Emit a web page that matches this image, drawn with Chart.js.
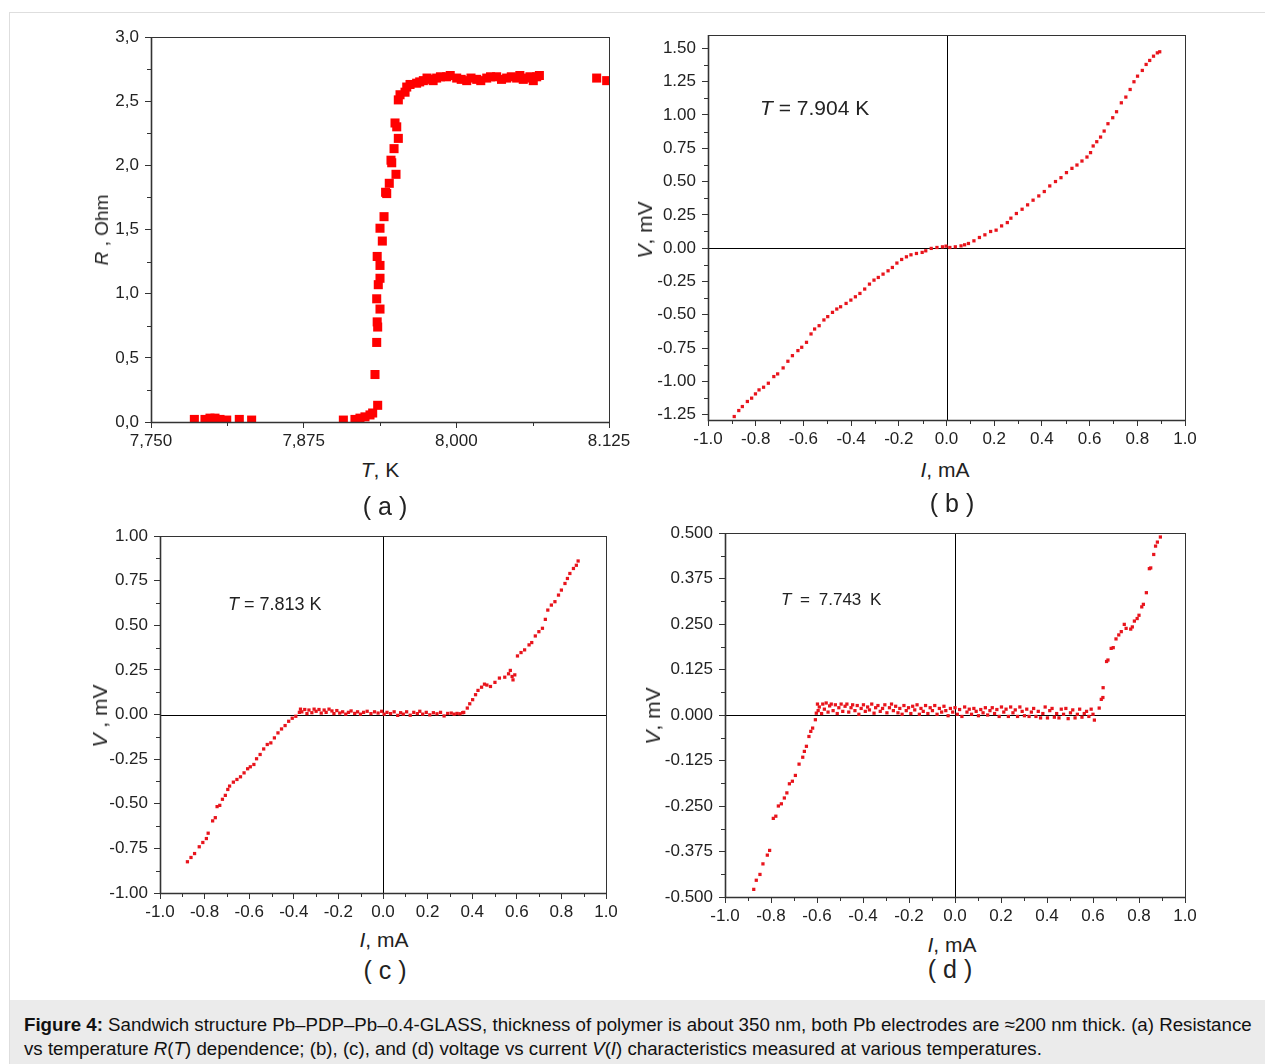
<!DOCTYPE html>
<html>
<head>
<meta charset="utf-8">
<script src="https://cdn.jsdelivr.net/npm/chart.js@4/dist/chart.umd.min.js"></script>
<style>
  body { margin: 0; width: 1265px; height: 1064px; background: #fff; position: relative; overflow: hidden;
         font-family: "Liberation Sans", Arial, sans-serif; color: #222; }
  .fig { position: absolute; left: 9px; top: 12px; width: 1270px; height: 1060px; border: 1px solid #dedede; }
  canvas { position: absolute; }
  .t { position: absolute; white-space: nowrap; transform: translate(-50%, -50%); font-size: 21px; }
  .rot { transform: translate(-50%, -50%) rotate(-90deg); }
  .lbl { font-size: 25px; }
  .note { position: absolute; white-space: nowrap; transform: translateY(-50%); }
  .caption { position: absolute; left: 10px; top: 1000px; width: 1260px; height: 64px; background: #ebebeb;
             font-size: 18.7px; line-height: 24px; padding: 13px 0 0 14px; box-sizing: border-box; color: #111; }
</style>
</head>
<body>
<div class="fig"></div>

<canvas id="chartA" width="558" height="435" style="left:81px;top:17px"></canvas>
<canvas id="chartB" width="577" height="435" style="left:638px;top:15px"></canvas>
<canvas id="chartC" width="546" height="407" style="left:90px;top:516px"></canvas>
<canvas id="chartD" width="560" height="414" style="left:655px;top:513px"></canvas>

<div class="t rot" style="left:102px;top:230px;font-size:19px"><i>R</i> , Ohm</div>
<div class="t" style="left:380px;top:470px"><i>T</i>, K</div>
<div class="t lbl" style="left:385px;top:506px">( a )</div>

<div class="t rot" style="left:645px;top:230px"><i>V</i>, mV</div>
<div class="t" style="left:945px;top:470px"><i>I</i>, mA</div>
<div class="t lbl" style="left:952px;top:503px">( b )</div>
<div class="note" style="left:760px;top:108px;font-size:21px"><i>T</i> = 7.904 K</div>

<div class="t rot" style="left:100px;top:716px"><i>V</i> , mV</div>
<div class="t" style="left:384px;top:940px"><i>I</i>, mA</div>
<div class="t lbl" style="left:385px;top:970px">( c )</div>
<div class="note" style="left:228px;top:604px;font-size:18px"><i>T</i> = 7.813 K</div>

<div class="t rot" style="left:653px;top:716px"><i>V</i>, mV</div>
<div class="t" style="left:952px;top:945px"><i>I</i>, mA</div>
<div class="t lbl" style="left:950px;top:969px">( d )</div>
<div class="note" style="left:781px;top:600px;font-size:17px;word-spacing:4px"><i>T</i> = 7.743 K</div>

<div class="caption"><b>Figure 4:</b> Sandwich structure Pb–PDP–Pb–0.4-GLASS, thickness of polymer is about 350 nm, both Pb electrodes are ≈200 nm thick. (a) Resistance<br>vs temperature <i>R</i>(<i>T</i>) dependence; (b), (c), and (d) voltage vs current <i>V</i>(<i>I</i>) characteristics measured at various temperatures.</div>

<script>
// ---- (a) R(T) ----
const aTemp = [7.7855, 7.7942, 7.7983, 7.8024, 7.8065, 7.8120, 7.8223, 7.8324,
  7.9075, 7.9170, 7.9211, 7.9252, 7.9293, 7.9315, 7.9356,
  7.9334, 7.9348, 7.9356, 7.9352, 7.9375, 7.9348, 7.9361, 7.9375, 7.9375, 7.9352,
  7.9394, 7.9375, 7.9408, 7.9430, 7.9421, 7.9451, 7.9506, 7.9471, 7.9465, 7.9490,
  7.9525, 7.9512, 7.9498, 7.9525, 7.9539, 7.9580, 7.9594, 7.9621, 7.9675, 7.9730,
  7.9784, 7.9839, 7.9921, 8.0003, 8.0085, 8.0167, 8.0249, 8.0330, 8.0412, 8.0494,
  8.0548, 8.0603, 8.0658, 7.9700, 7.9760, 7.9810, 7.9870, 7.9950, 8.0040, 8.0120,
  8.0200, 8.0280, 8.0370, 8.0450, 8.0520, 8.0580, 8.0630, 8.0680, 8.1149, 8.1231];
const aRes = [0.02, 0.02, 0.03, 0.03, 0.02, 0.015, 0.02, 0.015,
  0.015, 0.02, 0.03, 0.04, 0.055, 0.07, 0.13,
  0.37, 0.62, 0.74, 0.78, 0.88, 0.96, 1.07, 1.12, 1.22, 1.29,
  1.41, 1.51, 1.60, 1.78, 1.79, 1.86, 1.93, 2.02, 2.04, 2.13,
  2.21, 2.30, 2.33, 2.51, 2.55, 2.57, 2.61, 2.63, 2.64, 2.66,
  2.67, 2.68, 2.69, 2.68, 2.66, 2.67, 2.68, 2.69, 2.68, 2.68,
  2.67, 2.69, 2.69, 2.65, 2.68, 2.66, 2.69, 2.70, 2.67, 2.68,
  2.66, 2.69, 2.67, 2.69, 2.70, 2.68, 2.66, 2.70, 2.68, 2.66];
const aXTicks = [7.75, 7.875, 8.0, 8.125];
const aXLabels = ['7,750', '7,875', '8,000', '8.125'];
const aYTicks = [0, 0.5, 1.0, 1.5, 2.0, 2.5, 3.0];
const aYLabels = ['0,0', '0,5', '1,0', '1,5', '2,0', '2,5', '3,0'];

// ---- (b) V(I), T = 7.904 K ----
const bCurrent = [-0.890, -0.871, -0.856, -0.835, -0.817, -0.801, -0.786, -0.767, -0.747, -0.724,
  -0.708, -0.685, -0.665, -0.646, -0.623, -0.607, -0.587, -0.568, -0.553, -0.534,
  -0.514, -0.498, -0.478, -0.460, -0.444, -0.421, -0.401, -0.382, -0.363, -0.343,
  -0.323, -0.304, -0.286, -0.266, -0.245, -0.227, -0.208, -0.188, -0.168, -0.149,
  -0.126, -0.102, -0.087, -0.064, -0.040, -0.017, -0.002, 0.014, 0.037, 0.061,
  0.076, 0.092, 0.115, 0.138, 0.161, 0.185, 0.208, 0.231, 0.255, 0.270,
  0.293, 0.317, 0.340, 0.363, 0.387, 0.410, 0.433, 0.457, 0.480, 0.503,
  0.526, 0.547, 0.568, 0.589, 0.604, 0.615, 0.630, 0.646, 0.661, 0.677,
  0.697, 0.713, 0.733, 0.752, 0.770, 0.786, 0.801, 0.821, 0.837, 0.852,
  0.868, 0.884, 0.894];
const bVoltage = [-1.264, -1.219, -1.189, -1.151, -1.126, -1.094, -1.064, -1.044, -1.014, -0.964,
  -0.944, -0.899, -0.849, -0.807, -0.769, -0.744, -0.707, -0.644, -0.607, -0.582,
  -0.539, -0.514, -0.482, -0.457, -0.440, -0.415, -0.390, -0.365, -0.340, -0.307,
  -0.270, -0.240, -0.220, -0.195, -0.170, -0.145, -0.112, -0.085, -0.065, -0.050,
  -0.040, -0.032, -0.020, -0.002, 0.005, 0.010, 0.015, 0.005, 0.010, 0.017,
  0.025, 0.035, 0.055, 0.080, 0.100, 0.125, 0.135, 0.167, 0.192, 0.225,
  0.260, 0.292, 0.325, 0.360, 0.392, 0.425, 0.467, 0.500, 0.529, 0.567,
  0.599, 0.624, 0.654, 0.684, 0.717, 0.767, 0.799, 0.834, 0.879, 0.934,
  0.979, 1.024, 1.091, 1.134, 1.191, 1.249, 1.291, 1.334, 1.379, 1.409,
  1.441, 1.466, 1.474];
const bXTicks = [-1.0, -0.8, -0.6, -0.4, -0.2, 0.0, 0.2, 0.4, 0.6, 0.8, 1.0];
const bXLabels = ['-1.0', '-0.8', '-0.6', '-0.4', '-0.2', '0.0', '0.2', '0.4', '0.6', '0.8', '1.0'];
const bYTicks = [-1.25, -1.0, -0.75, -0.5, -0.25, 0, 0.25, 0.5, 0.75, 1.0, 1.25, 1.5];
const bYLabels = ['-1.25', '-1.00', '-0.75', '-0.50', '-0.25', '0.00', '0.25', '0.50', '0.75', '1.00', '1.25', '1.50'];

// ---- (c) V(I), T = 7.813 K ----
const cCurrent = [-0.877, -0.861, -0.845, -0.824, -0.808, -0.792, -0.784, -0.764, -0.752, -0.744,
  -0.732, -0.720, -0.707, -0.696, -0.688, -0.671, -0.655, -0.639, -0.623, -0.607,
  -0.595, -0.579, -0.567, -0.551, -0.535, -0.519, -0.503, -0.487, -0.471, -0.455,
  -0.439, -0.423, -0.407, -0.391, -0.375,
  -0.370, -0.364, -0.351, -0.341, -0.332, -0.319, -0.309, -0.300, -0.287, -0.277,
  -0.264, -0.255, -0.242, -0.229, -0.220, -0.207, -0.194, -0.181, -0.167, -0.155,
  -0.143, -0.127, -0.114, -0.101, -0.087, -0.071, -0.054, -0.038, -0.022, -0.006,
  0.005, 0.018, 0.034, 0.050, 0.066, 0.079, 0.091, 0.106, 0.122, 0.138,
  0.154, 0.165, 0.178, 0.194, 0.210, 0.226, 0.242, 0.258, 0.274, 0.290,
  0.306, 0.319, 0.332, 0.345, 0.357,
  0.362, 0.378, 0.389, 0.402, 0.415, 0.426, 0.442, 0.455, 0.466, 0.482,
  0.502, 0.522, 0.546, 0.563, 0.571, 0.579, 0.583, 0.591, 0.603, 0.619,
  0.635, 0.655, 0.667, 0.683, 0.699, 0.715, 0.728, 0.739, 0.755, 0.771,
  0.787, 0.800, 0.816, 0.827, 0.838, 0.854, 0.867, 0.875];
const cVoltage = [-0.825, -0.801, -0.779, -0.741, -0.717, -0.695, -0.665, -0.596, -0.578, -0.516,
  -0.509, -0.475, -0.453, -0.420, -0.401, -0.379, -0.364, -0.349, -0.327, -0.304,
  -0.293, -0.280, -0.248, -0.224, -0.193, -0.168, -0.159, -0.131, -0.103, -0.081,
  -0.062, -0.038, -0.021, -0.010, 0.012,
  0.030, 0.015, 0.028, 0.005, 0.025, 0.010, 0.030, 0.018, 0.028, 0.008,
  0.025, 0.012, 0.030, 0.020, 0.005, 0.022, 0.008, 0.015, 0.002, 0.012,
  0.020, 0.006, 0.015, 0.002, 0.012, 0.018, 0.005, 0.015, 0.008, 0.018,
  0.002, 0.012, 0.005, 0.015, -0.005, 0.010, 0.002, 0.015, -0.004, 0.012,
  0.005, 0.018, 0.002, 0.012, -0.002, 0.010, 0.004, 0.012, -0.008, 0.006,
  0.008, 0.002, 0.006, 0.004, 0.010,
  0.012, 0.036, 0.060, 0.083, 0.111, 0.135, 0.153, 0.170, 0.165, 0.157,
  0.180, 0.204, 0.209, 0.228, 0.247, 0.213, 0.194, 0.222, 0.328, 0.347,
  0.362, 0.390, 0.403, 0.440, 0.464, 0.483, 0.533, 0.585, 0.613, 0.632,
  0.669, 0.697, 0.734, 0.762, 0.790, 0.818, 0.836, 0.860];
const cYTicks = [-1.0, -0.75, -0.5, -0.25, 0, 0.25, 0.5, 0.75, 1.0];
const cYLabels = ['-1.00', '-0.75', '-0.50', '-0.25', '0.00', '0.25', '0.50', '0.75', '1.00'];

// ---- (d) V(I), T = 7.743 K ----
const dCurrent = [-0.875, -0.864, -0.848, -0.835, -0.816, -0.806, -0.790, -0.779, -0.768, -0.755,
  -0.742, -0.731, -0.720, -0.707, -0.694, -0.678, -0.662, -0.655, -0.646, -0.635,
  -0.627, -0.619, -0.607, -0.603,
  -0.598, -0.595, -0.590, -0.580, -0.575, -0.568, -0.560, -0.552, -0.545, -0.538,
  -0.530, -0.520, -0.512, -0.505, -0.495, -0.488, -0.478, -0.470, -0.462, -0.452,
  -0.445, -0.435, -0.425, -0.418, -0.408, -0.398, -0.390, -0.380, -0.372, -0.362,
  -0.352, -0.345, -0.335, -0.325, -0.315, -0.305, -0.296, -0.285, -0.276, -0.268,
  -0.258, -0.248, -0.240, -0.230, -0.222, -0.212, -0.202, -0.192, -0.184, -0.175,
  -0.165, -0.155, -0.148, -0.138, -0.128, -0.118, -0.108, -0.098, -0.088, -0.078,
  -0.068, -0.058, -0.048, -0.040, -0.030, -0.020, -0.010, 0.000, 0.010, 0.020,
  0.030, 0.042, 0.052, 0.062, 0.072, 0.082, 0.092, 0.102, 0.112, 0.122,
  0.132, 0.142, 0.152, 0.162, 0.172, 0.182, 0.192, 0.202, 0.212, 0.222,
  0.232, 0.242, 0.252, 0.262, 0.272, 0.282, 0.292, 0.302, 0.312, 0.322,
  0.332, 0.342, 0.352, 0.362, 0.372, 0.382, 0.392, 0.402, 0.412, 0.422,
  0.432, 0.442, 0.452, 0.462, 0.472, 0.482, 0.492, 0.502, 0.512, 0.522,
  0.532, 0.542, 0.552, 0.562, 0.572, 0.582, 0.592, 0.600, 0.606,
  0.627, 0.636, 0.643, 0.644, 0.659, 0.665, 0.679, 0.688, 0.700, 0.712,
  0.723, 0.736, 0.744, 0.764, 0.771, 0.780, 0.792, 0.800, 0.812, 0.819,
  0.832, 0.845, 0.851, 0.864, 0.872, 0.880, 0.893];
const dVoltage = [-0.479, -0.454, -0.438, -0.409, -0.385, -0.372, -0.284, -0.278, -0.250, -0.244,
  -0.228, -0.214, -0.189, -0.182, -0.166, -0.135, -0.116, -0.100, -0.086, -0.059,
  -0.045, -0.036, -0.013, 0.005,
  0.030, 0.012, 0.022, 0.004, 0.030, 0.016, 0.033, 0.008, 0.025, 0.030,
  0.012, 0.028, 0.004, 0.020, 0.030, 0.010, 0.024, 0.030, 0.008, 0.020,
  0.028, 0.012, 0.026, 0.002, 0.018, 0.028, 0.010, 0.022, 0.014, 0.030,
  0.005, 0.020, 0.026, 0.010, 0.018, 0.028, 0.006, 0.020, 0.030, 0.012,
  0.024, 0.006, 0.018, 0.002, 0.026, 0.012, 0.020, 0.004, 0.024, 0.014,
  0.028, 0.002, 0.018, 0.010, 0.026, 0.004, 0.020, 0.012, 0.026, 0.002,
  0.018, 0.008, 0.024, 0.012, -0.002, 0.018, 0.008, 0.020, 0.002, 0.015,
  -0.004, 0.022, 0.008, 0.016, 0.002, 0.018, 0.010, -0.002, 0.015, 0.006,
  0.020, 0.000, 0.012, 0.020, 0.004, 0.015, -0.004, 0.022, 0.008, 0.016,
  -0.004, 0.022, 0.006, 0.014, -0.004, 0.022, 0.010, -0.002, 0.016, -0.004,
  0.008, 0.018, -0.004, 0.010, -0.008, 0.004, 0.022, -0.008, 0.012, 0.018,
  -0.006, 0.004, -0.008, 0.016, 0.002, 0.018, -0.010, 0.006, 0.014, -0.008,
  0.002, 0.016, -0.006, 0.004, 0.010, -0.004, 0.016, 0.002, -0.014,
  0.019, 0.043, 0.048, 0.075, 0.147, 0.151, 0.183, 0.185, 0.209, 0.220,
  0.229, 0.249, 0.238, 0.236, 0.242, 0.258, 0.265, 0.274, 0.297, 0.304,
  0.336, 0.402, 0.404, 0.441, 0.464, 0.475, 0.489];
const dYTicks = [-0.5, -0.375, -0.25, -0.125, 0, 0.125, 0.25, 0.375, 0.5];
const dYLabels = ['-0.500', '-0.375', '-0.250', '-0.125', '0.000', '0.125', '0.250', '0.375', '0.500'];

const FONT = '"Liberation Sans", Arial, sans-serif';
const AXIS = '#333';

function mids(ticks) {
    const out = [];
    for (let i = 1; i < ticks.length; i++) out.push((ticks[i - 1].value + ticks[i].value) / 2);
    return out;
}

// frame, minor ticks and the zero cross lines
const framePlugin = {
    id: 'frame',
    beforeDatasetsDraw(chart, args, opts) {
        if (!opts.zero) return;
        const { ctx, chartArea: a, scales: { x, y } } = chart;
        const px = Math.round(x.getPixelForValue(0)) + 0.5;
        const py = Math.round(y.getPixelForValue(0)) + 0.5;
        ctx.save();
        ctx.strokeStyle = '#000';
        ctx.lineWidth = 1;
        ctx.beginPath();
        ctx.moveTo(px, a.top); ctx.lineTo(px, a.bottom);
        ctx.moveTo(a.left, py); ctx.lineTo(a.right, py);
        ctx.stroke();
        ctx.restore();
    },
    afterDraw(chart) {
        const { ctx, chartArea: a, scales: { x, y } } = chart;
        ctx.save();
        ctx.strokeStyle = AXIS;
        ctx.lineWidth = 1;
        ctx.beginPath();
        mids(x.ticks).forEach(v => {
            const p = Math.round(x.getPixelForValue(v)) + 0.5;
            ctx.moveTo(p, a.bottom); ctx.lineTo(p, a.bottom + 4);
        });
        mids(y.ticks).forEach(v => {
            const p = Math.round(y.getPixelForValue(v)) + 0.5;
            ctx.moveTo(a.left, p); ctx.lineTo(a.left - 4, p);
        });
        ctx.stroke();
        ctx.strokeRect(Math.round(a.left) + 0.5, Math.round(a.top) + 0.5, Math.round(a.width), Math.round(a.height));
        // left and bottom axes a bit heavier
        ctx.lineWidth = 1.6;
        ctx.beginPath();
        ctx.moveTo(Math.round(a.left) + 0.5, a.top); ctx.lineTo(Math.round(a.left) + 0.5, Math.round(a.bottom) + 0.5);
        ctx.lineTo(a.right, Math.round(a.bottom) + 0.5);
        ctx.stroke();
        ctx.restore();
    }
};

function axis(min, max, ticks, labels, isX) {
    return {
        type: 'linear', min: min, max: max,
        afterBuildTicks: s => { s.ticks = ticks.map(v => ({ value: v })); },
        afterFit: s => { if (isX) s.height = 30; else s.width = 70; },
        grid: { drawOnChartArea: false, tickLength: 6, color: AXIS },
        border: { display: false },
        ticks: {
            autoSkip: false, maxRotation: 0, padding: isX ? 3 : 6, color: '#222',
            font: { family: FONT, size: 17 },
            callback: (v, i) => labels[i]
        }
    };
}

function makeChart(id, xs, ys, cfg) {
    return new Chart(document.getElementById(id), {
        type: 'scatter',
        data: {
            datasets: [{
                data: xs.map((v, i) => ({ x: v, y: ys[i] })),
                pointStyle: 'rect',
                pointRadius: cfg.r,
                backgroundColor: cfg.color,
                borderWidth: 0
            }]
        },
        options: {
            responsive: false, animation: false, devicePixelRatio: 1,
            layout: { padding: { top: 20, right: 30, left: 0, bottom: 0 } },
            plugins: { legend: { display: false }, tooltip: { enabled: false }, frame: { zero: cfg.zero } },
            scales: {
                x: axis(cfg.xMin, cfg.xMax, cfg.xTicks, cfg.xLabels, true),
                y: axis(cfg.yMin, cfg.yMax, cfg.yTicks, cfg.yLabels, false)
            }
        },
        plugins: [framePlugin]
    });
}

makeChart('chartA', aTemp, aRes, {
    r: 6.4, color: '#ff0000', zero: false,
    xMin: 7.75, xMax: 8.125, xTicks: aXTicks, xLabels: aXLabels,
    yMin: 0, yMax: 3, yTicks: aYTicks, yLabels: aYLabels
});
makeChart('chartB', bCurrent, bVoltage, {
    r: 2.3, color: '#e8141c', zero: true,
    xMin: -1, xMax: 1, xTicks: bXTicks, xLabels: bXLabels,
    yMin: -1.29, yMax: 1.6, yTicks: bYTicks, yLabels: bYLabels
});
makeChart('chartC', cCurrent, cVoltage, {
    r: 2.3, color: '#e8141c', zero: true,
    xMin: -1, xMax: 1, xTicks: bXTicks, xLabels: bXLabels,
    yMin: -1, yMax: 1, yTicks: cYTicks, yLabels: cYLabels
});
makeChart('chartD', dCurrent, dVoltage, {
    r: 2.3, color: '#e8141c', zero: true,
    xMin: -1, xMax: 1, xTicks: bXTicks, xLabels: bXLabels,
    yMin: -0.5, yMax: 0.5, yTicks: dYTicks, yLabels: dYLabels
});
</script>
</body>
</html>
